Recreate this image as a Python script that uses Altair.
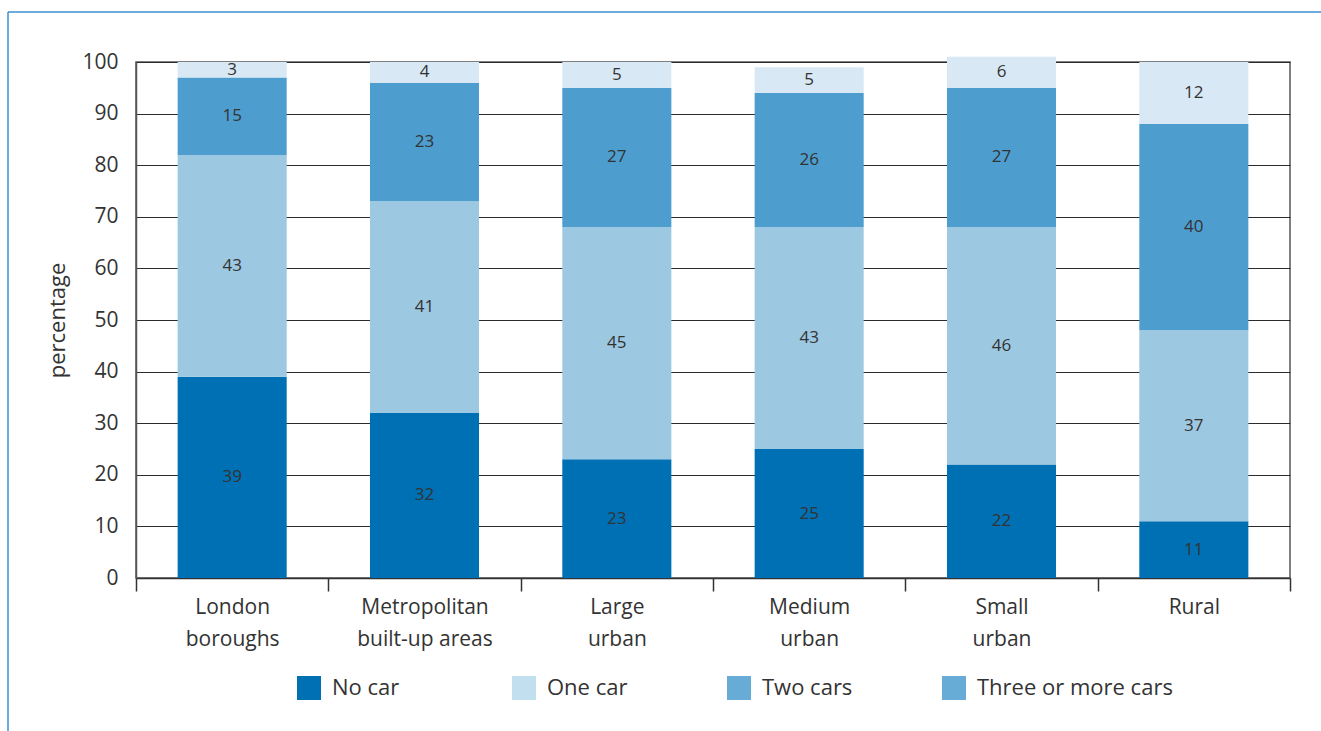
import altair as alt
import pandas as pd

# Household car availability by area type (percentages)
categories = ["London boroughs", "Metropolitan built-up areas", "Large urban",
              "Medium urban", "Small urban", "Rural"]
series = ["No car", "One car", "Two cars", "Three or more cars"]
no_car = [39, 32, 23, 25, 22, 11]
one_car = [43, 41, 45, 43, 46, 37]
two_cars = [15, 23, 27, 26, 27, 40]
three_plus = [3, 4, 5, 5, 6, 12]

bar_colors = ["#0070b4", "#9dc8e2", "#4d9ecf", "#d8e8f4"]
legend_colors = ["#0070b4", "#c2dfef", "#66acd6", "#66acd6"]

FONT = "Open Sans"
TEXT = "#333333"
W, H = 1154, 516

rows = []
for i, cat in enumerate(categories):
    for k, (name, vals) in enumerate(zip(series, [no_car, one_car, two_cars, three_plus])):
        rows.append({"category": cat, "series": name, "value": vals[i], "order": k})
df = pd.DataFrame(rows)

base = alt.Chart(df).transform_stack(
    stack="value", groupby=["category"], sort=[alt.SortField("order")], as_=["y0", "y1"]
).transform_calculate(mid="(datum.y0 + datum.y1) / 2")

x_enc = alt.X(
    "category:N", sort=categories, title=None,
    scale=alt.Scale(paddingInner=0, paddingOuter=0),
    axis=alt.Axis(
        labelAngle=0, labelFont=FONT, labelFontSize=21, labelColor=TEXT,
        labelBaseline="top", labelPadding=5, labelLineHeight=32, labelLimit=300,
        labelExpr="indexof(datum.label, ' ') < 0 ? datum.label : "
                  "[substring(datum.label, 0, indexof(datum.label, ' ')), "
                  "substring(datum.label, indexof(datum.label, ' ') + 1)]",
        tickBand="extent", ticks=True, tickSize=13, tickColor="#333333", tickWidth=1.5,
        domainColor="#333333", domainWidth=1.5, grid=False,
    ),
)

bars = base.mark_bar(width={"band": 0.567}).encode(
    x=x_enc,
    y=alt.Y(
        "y0:Q", title="percentage",
        scale=alt.Scale(domain=[0, 100], nice=False),
        axis=alt.Axis(
            values=list(range(0, 101, 10)), labelFont=FONT, labelFontSize=21,
            labelColor=TEXT, labelPadding=18, ticks=False,
            domainColor="#555555", domainWidth=1.5,
            grid=True, gridColor="#2b2b2b", gridWidth=1.2,
            titleFont=FONT, titleFontSize=22, titleFontWeight="normal",
            titleColor=TEXT, titlePadding=12,
        ),
    ),
    y2="y1:Q",
    color=alt.Color("series:N", scale=alt.Scale(domain=series, range=bar_colors), legend=None),
)

labels = base.mark_text(font=FONT, fontSize=17, color=TEXT, baseline="middle").encode(
    x=alt.X("category:N", sort=categories),
    y=alt.Y("mid:Q"),
    text=alt.Text("value:Q"),
)

plot = alt.layer(bars, labels)

# Legend row beneath the plot
leg_df = pd.DataFrame({"series": series, "idx": list(range(len(series)))})
leg_x = alt.X("idx:Q", scale=alt.Scale(domain=[0, 3], range=[173, 818]), axis=None)
leg_sq = alt.Chart(leg_df).mark_square(size=576, opacity=1).encode(
    x=leg_x, y=alt.value(626),
    color=alt.Color("series:N", scale=alt.Scale(domain=series, range=legend_colors), legend=None),
)
leg_tx = alt.Chart(leg_df).mark_text(
    font=FONT, fontSize=22, color=TEXT, align="left", baseline="middle", dx=23
).encode(x=leg_x, y=alt.value(626), text="series:N")

# Thin blue frame along the top and left edges of the figure
one = pd.DataFrame({"a": [0]})
frame_top = alt.Chart(one).mark_rule(color="#3a8fd3", strokeWidth=1.5).encode(
    x=alt.value(-128), x2=alt.value(W + 40), y=alt.value(-50))
frame_left = alt.Chart(one).mark_rule(color="#3a8fd3", strokeWidth=1.5).encode(
    x=alt.value(-128), y=alt.value(-50), y2=alt.value(H + 200))

chart = alt.layer(plot, leg_sq, leg_tx, frame_top, frame_left).resolve_scale(
    x="independent", color="independent"
).properties(
    width=W, height=H,
    padding={"left": 136, "top": 62, "right": 31, "bottom": 153},
    autosize=alt.AutoSizeParams(type="none"),
    background="white",
).configure_view(stroke="#555555", strokeWidth=1.5)

chart.save("out.html", embed_options={"renderer": "svg", "actions": False})
